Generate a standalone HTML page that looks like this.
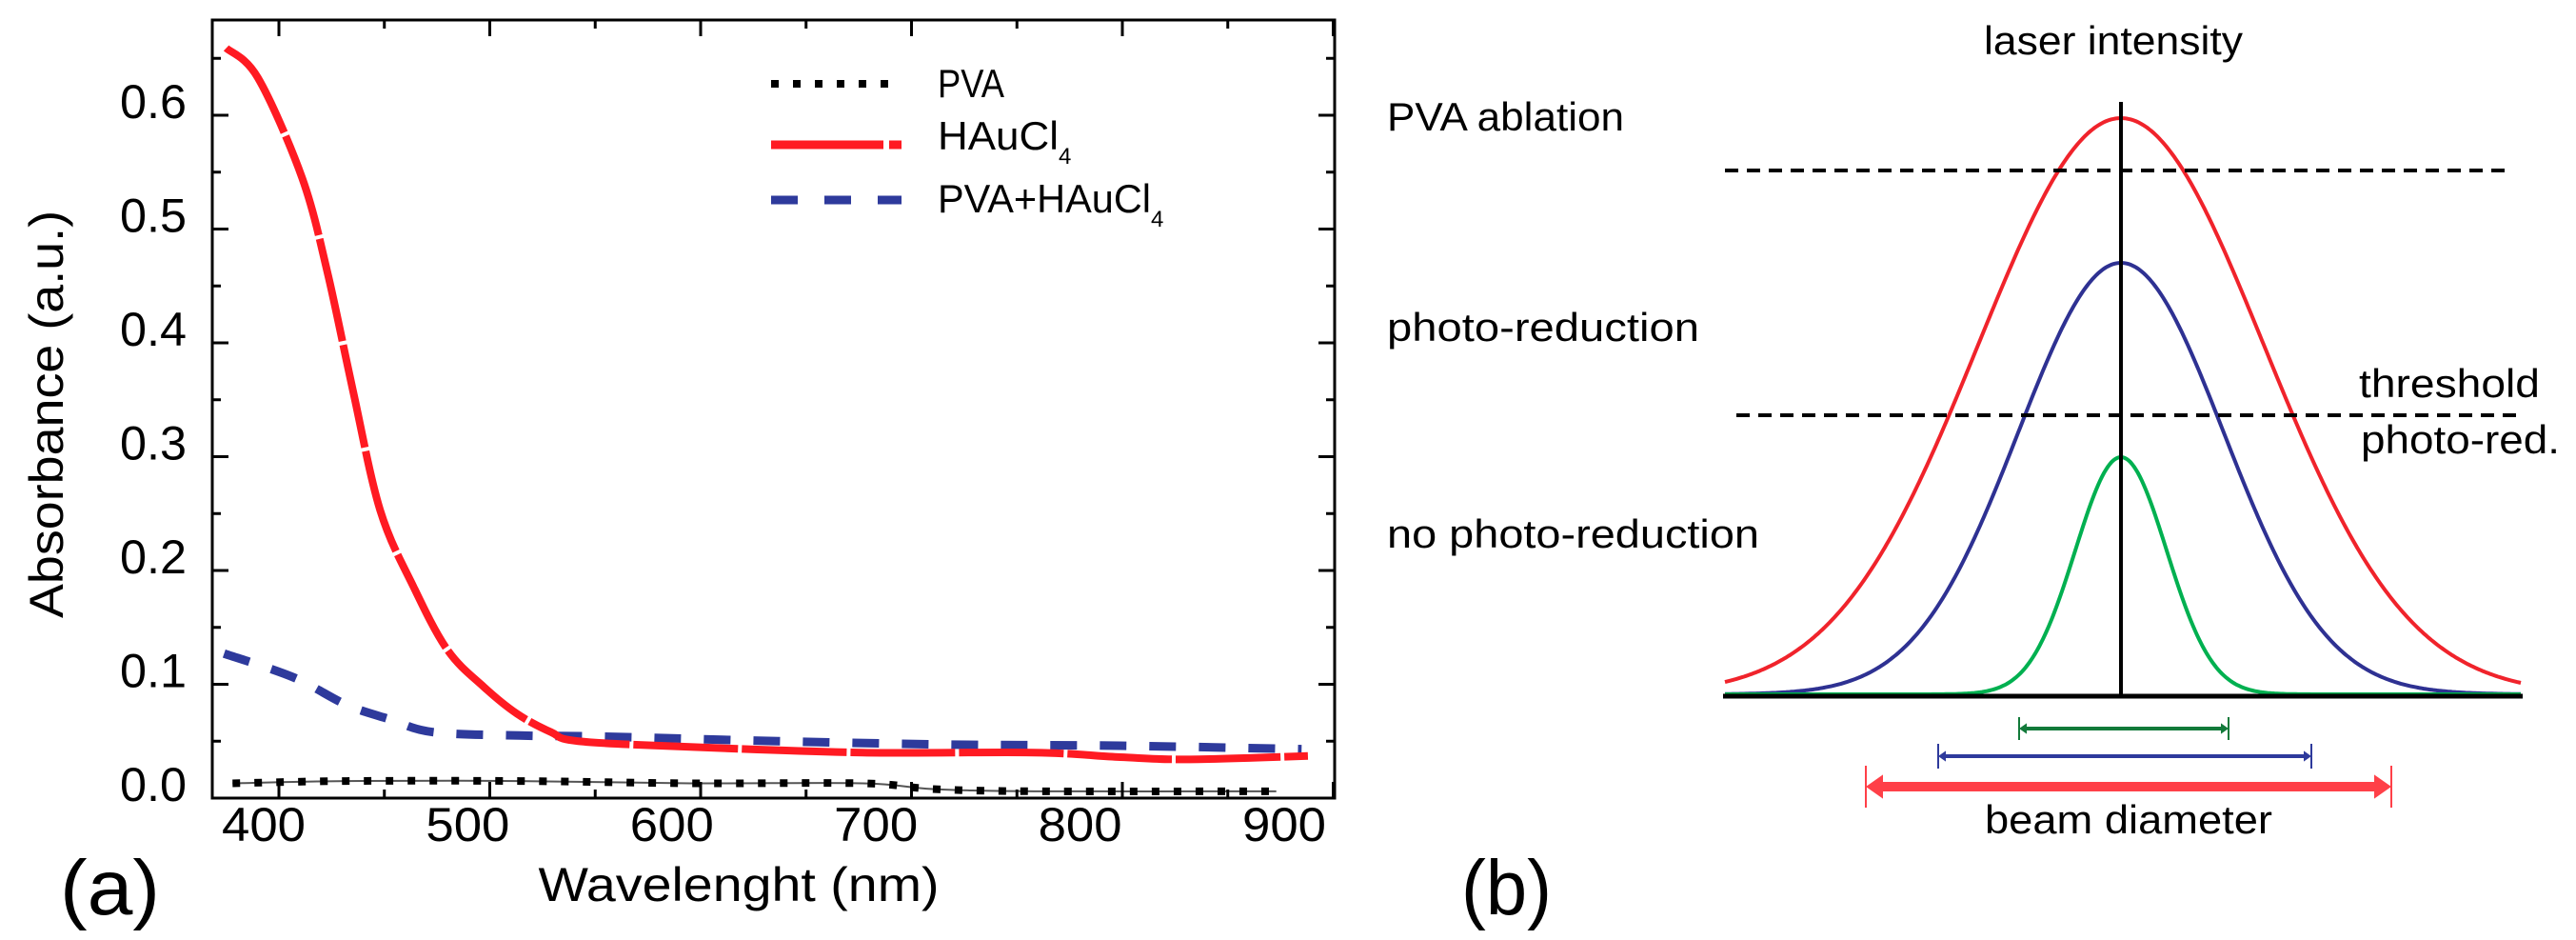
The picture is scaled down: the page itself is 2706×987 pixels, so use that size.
<!DOCTYPE html>
<html><head><meta charset="utf-8"><style>
html,body{margin:0;padding:0;background:#fff;}
svg{display:block;}
text{font-family:"Liberation Sans",sans-serif;fill:#000;}
</style></head><body>
<svg id="fig" width="2706" height="987" viewBox="0 0 2706 987" xmlns="http://www.w3.org/2000/svg">
<g id="panelA"></g>
<g id="panelB"></g>
</svg>
<script>
// ---- Panel (a) data ----
const redNm  = [375,390,411,423,435,448,464,480,497,513,529,542,595,677,758,799,832,888];
const redVal = [0.659,0.633,0.545,0.462,0.359,0.253,0.185,0.130,0.098,0.074,0.058,0.050,0.045,0.040,0.040,0.036,0.034,0.037];
const blueNm  = [374,407,432,453,473,514,555,637,719,799,885];
const blueVal = [0.127,0.106,0.082,0.069,0.058,0.055,0.054,0.050,0.047,0.046,0.043];
const blackNm  = [378,432,514,595,677,710,758,873];
const blackVal = [0.013,0.015,0.015,0.013,0.013,0.008,0.006,0.006];
const yTicks = [0.0,0.1,0.2,0.3,0.4,0.5,0.6];
const yTickLabels = ["0.0","0.1","0.2","0.3","0.4","0.5","0.6"];
const xTicks = [400,500,600,700,800,900];
const xTickLabels = ["400","500","600","700","800","900"];
// ---- Panel (b) data ----
const beamHeights = [605,453,249];
const beamSigmas = [150,108,48];
const beamColors = ["#f0232b","#2e3192","#00b050"];

const NS="http://www.w3.org/2000/svg";
function mk(parent,tag,attrs,txt){const e=document.createElementNS(NS,tag);for(const k in attrs)e.setAttribute(k,attrs[k]);if(txt!==undefined)e.textContent=txt;parent.appendChild(e);return e;}
const A=document.getElementById('panelA');
const L=223,R=1402,T=21,B=838;
const xs=nm=>293+(nm-400)*2.215;
const xl=nm=>277+(nm-400)*2.144;
const ys=v=>838-v*1195;
function smooth(pts){let d="M"+pts[0][0]+","+pts[0][1];for(let i=0;i<pts.length-1;i++){const p0=pts[i-1]||pts[i],p1=pts[i],p2=pts[i+1],p3=pts[i+2]||p2;const c1x=p1[0]+(p2[0]-p0[0])/6,c1y=p1[1]+(p2[1]-p0[1])/6,c2x=p2[0]-(p3[0]-p1[0])/6,c2y=p2[1]-(p3[1]-p1[1])/6;d+=` C${c1x},${c1y} ${c2x},${c2y} ${p2[0]},${p2[1]}`;}return d;}

// series
let p;
const blackD=smooth(blackNm.map((n,i)=>[xs(n),ys(blackVal[i])]));
p=mk(A,'path',{d:blackD,fill:'none',stroke:'#555','stroke-width':2});


p=mk(A,'path',{d:blackD,fill:'none',stroke:'#000','stroke-width':8,'stroke-dasharray':'8 15'});


p=mk(A,'path',{d:smooth(blueNm.map((n,i)=>[xs(n),ys(blueVal[i])])),fill:'none',stroke:'#2e3a9c','stroke-width':9,'stroke-dasharray':'28 24'});


p=mk(A,'path',{d:smooth(redNm.map((n,i)=>[xs(n),ys(redVal[i])])),fill:'none',stroke:'#ff1a22','stroke-width':8,'stroke-dasharray':'110 4'});



// frame
p=mk(A,'rect',{x:L,y:T,width:R-L,height:B-T,fill:'none',stroke:'#000','stroke-width':3});


for(let v=0;v<=0.65;v+=0.05){const y=ys(v);const major=Math.round(v*100)%10===0;const len=major?17:9;
 mk(A,'line',{x1:L,x2:L+len,y1:y,y2:y,stroke:'#000','stroke-width':3});
 mk(A,'line',{x1:R,x2:R-len,y1:y,y2:y,stroke:'#000','stroke-width':3});}
yTicks.forEach((v,i)=>{const t=mk(A,'text',{x:196,y:ys(v)+3,'font-size':50,'text-anchor':'end',textLength:70,lengthAdjust:'spacingAndGlyphs'},yTickLabels[i]);
 
 });
for(let n=400;n<=900;n+=50){const x=xs(n);const major=n%100===0;const len=major?17:9;
 mk(A,'line',{x1:x,x2:x,y1:B,y2:B-len,stroke:'#000','stroke-width':3});
 mk(A,'line',{x1:x,x2:x,y1:T,y2:T+len,stroke:'#000','stroke-width':3});}
xTicks.forEach((n,i)=>{const t=mk(A,'text',{x:xl(n),y:883,'font-size':50,'text-anchor':'middle',textLength:88,lengthAdjust:'spacingAndGlyphs'},xTickLabels[i]);
 
 });
p=mk(A,'text',{x:0,y:0,'font-size':50,'text-anchor':'middle',transform:'translate(66,435) rotate(-90)',textLength:428,lengthAdjust:'spacingAndGlyphs'},'Absorbance (a.u.)');


p=mk(A,'text',{x:776,y:946,'font-size':50,'text-anchor':'middle',textLength:421,lengthAdjust:'spacingAndGlyphs'},'Wavelenght (nm)');


p=mk(A,'text',{x:63,y:960,'font-size':82,textLength:105,lengthAdjust:'spacingAndGlyphs'},'(a)');


const lg=mk(A,'g',{});


mk(lg,'line',{x1:810,x2:947,y1:88,y2:88,stroke:'#000','stroke-width':8,'stroke-dasharray':'8 15'});
mk(lg,'line',{x1:810,x2:947,y1:152,y2:152,stroke:'#ff1a22','stroke-width':9,'stroke-dasharray':'118 6'});
mk(lg,'line',{x1:810,x2:947,y1:210,y2:210,stroke:'#2e3a9c','stroke-width':9,'stroke-dasharray':'28 28'});
p=mk(lg,'text',{x:985,y:102,'font-size':42,textLength:70,lengthAdjust:'spacingAndGlyphs'},'PVA');


p=mk(lg,'text',{x:985,y:157,'font-size':42},'');


p.innerHTML='<tspan textLength="127" lengthAdjust="spacingAndGlyphs">HAuCl</tspan><tspan font-size="24" dy="15">4</tspan>';
p=mk(lg,'text',{x:985,y:223,'font-size':42},'');


p.innerHTML='<tspan textLength="224" lengthAdjust="spacingAndGlyphs">PVA+HAuCl</tspan><tspan font-size="24" dy="15">4</tspan>';

// ---- Panel (b) ----
const Bp=document.getElementById('panelB');
const cx=2228, base=729, x0=1812, x1=2648;
beamHeights.forEach((h,k)=>{let d="";for(let x=x0;x<=x1;x+=2){const y=base-h*Math.exp(-((x-cx)**2)/(2*beamSigmas[k]**2));d+=(x===x0?"M":"L")+x+","+y.toFixed(1);}
 const e=mk(Bp,'path',{d:d,fill:'none',stroke:beamColors[k],'stroke-width':4});
 
 });
p=mk(Bp,'line',{x1:1812,x2:2636,y1:179,y2:179,stroke:'#000','stroke-width':4,'stroke-dasharray':'14 9'});


p=mk(Bp,'line',{x1:1824,x2:2648,y1:436,y2:436,stroke:'#000','stroke-width':4,'stroke-dasharray':'14 9'});


p=mk(Bp,'line',{x1:cx,x2:cx,y1:107,y2:731,stroke:'#000','stroke-width':4});


p=mk(Bp,'line',{x1:1810,x2:2650,y1:731,y2:731,stroke:'#000','stroke-width':5});


function arrow(xa,xb,y,col,w,ah,tk,name){const g=mk(Bp,'g',{});
 
 
 mk(g,'line',{x1:xa+ah,x2:xb-ah,y1:y,y2:y,stroke:col,'stroke-width':w});
 mk(g,'polygon',{points:`${xa},${y} ${xa+ah},${y-ah*0.7} ${xa+ah},${y+ah*0.7}`,fill:col});
 mk(g,'polygon',{points:`${xb},${y} ${xb-ah},${y-ah*0.7} ${xb-ah},${y+ah*0.7}`,fill:col});
 mk(g,'line',{x1:xa,x2:xa,y1:y-tk,y2:y+tk,stroke:col,'stroke-width':2});
 mk(g,'line',{x1:xb,x2:xb,y1:y-tk,y2:y+tk,stroke:col,'stroke-width':2});}
arrow(2121,2341,765,'#127a3a',4,8,12,'arrow-green');
arrow(2036,2428,794,'#2e3a9c',4,8,13,'arrow-blue');
arrow(1960,2512,826,'#ff4048',10,18,22,'arrow-red');
const labs=[["laser intensity",2220,57,"middle",272,"label-laser-intensity"],["PVA ablation",1457,137,"start",249,"label-pva-ablation"],["photo-reduction",1457,358,"start",328,"label-photo-reduction"],["no photo-reduction",1457,575,"start",391,"label-no-photo-reduction"],["threshold",2478,417,"start",190,"label-threshold"],["photo-red.",2480,476,"start",209,"label-photo-red"],["beam diameter",2236,875,"middle",302,"label-beam-diameter"]];
labs.forEach(a=>{const t=mk(Bp,'text',{x:a[1],y:a[2],'font-size':42,'text-anchor':a[3],textLength:a[4],lengthAdjust:'spacingAndGlyphs'},a[0]);
 
 });
p=mk(Bp,'text',{x:1535,y:960,'font-size':82,textLength:95,lengthAdjust:'spacingAndGlyphs'},'(b)');


</script>
</body></html>
